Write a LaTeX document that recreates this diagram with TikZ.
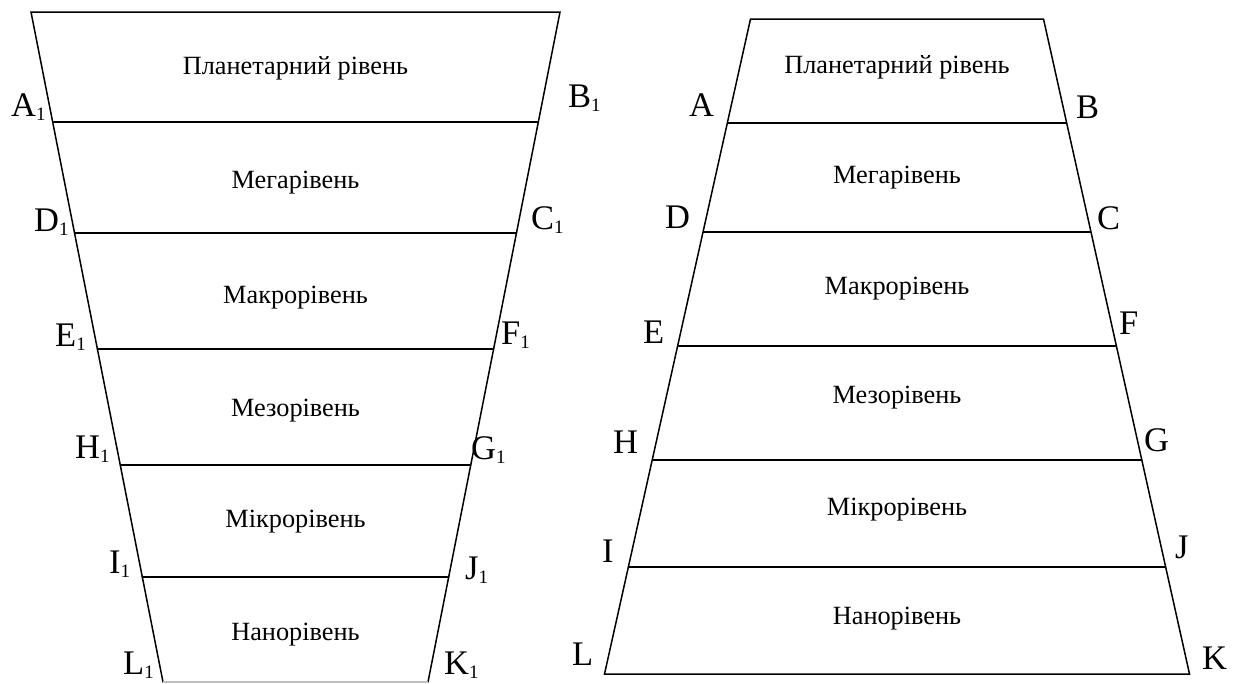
\documentclass[tikz,border=0pt]{standalone}
\usepackage{fontspec}
\setmainfont{Liberation Serif}
\newcommand\lsub[1]{\raisebox{-0.13em}{\fontsize{19}{19}\selectfont #1}}
\tikzset{
  edge/.style={line width=1.5pt, line cap=round},
  lvl/.style={font=\fontsize{26.3}{26.3}\selectfont, anchor=base, inner sep=0pt},
  lab/.style={font=\fontsize{34.5}{34.5}\selectfont, anchor=base west, inner sep=0pt},
}
\begin{document}
\begin{tikzpicture}[x=1pt,y=-1pt]
\useasboundingbox (0,0) rectangle (1233,683);
% ---- left (inverted) trapezoid corners
\coordinate (lt1) at (31,12);      \coordinate (rt1) at (560,12);
\coordinate (pA1) at (52.7,122);   \coordinate (pB1) at (538.3,122);
\coordinate (pD1) at (74.5,233);   \coordinate (pC1) at (516.5,233);
\coordinate (pE1) at (97.4,349);   \coordinate (pF1) at (493.6,349);
\coordinate (pH1) at (120.3,465);  \coordinate (pG1) at (470.8,465);
\coordinate (pI1) at (142.3,577);  \coordinate (pJ1) at (448.7,577);
\coordinate (pL1) at (163,682);    \coordinate (pK1) at (428,682);
\draw[edge] (pL1) -- (lt1) -- (rt1) -- (pK1);
\draw[line width=1.2pt, black!25] (pL1) -- (pK1);
\draw[edge] (pA1) -- (pB1);
\draw[edge] (pD1) -- (pC1);
\draw[edge] (pE1) -- (pF1);
\draw[edge] (pH1) -- (pG1);
\draw[edge] (pI1) -- (pJ1);
% ---- right trapezoid corners
\coordinate (lt2) at (750.5,19);   \coordinate (rt2) at (1043.5,19);
\coordinate (pA) at (727.7,123);   \coordinate (pB) at (1066.3,123);
\coordinate (pD) at (703.4,232);   \coordinate (pC) at (1090.6,232);
\coordinate (pE) at (677.9,346);   \coordinate (pF) at (1116.1,346);
\coordinate (pH) at (652.4,460);   \coordinate (pG) at (1141.6,460);
\coordinate (pI) at (628.4,567);   \coordinate (pJ) at (1165.6,567);
\coordinate (pL) at (604.5,674);   \coordinate (pK) at (1189.5,674);
\draw[edge] (lt2) -- (rt2) -- (pK) -- (pL) -- cycle;
\draw[edge] (pA) -- (pB);
\draw[edge] (pD) -- (pC);
\draw[edge] (pE) -- (pF);
\draw[edge] (pH) -- (pG);
\draw[edge] (pI) -- (pJ);
% ---- level texts, left
\node[lvl] (t1) at (295.5,74) {Планетарний рівень};
\node[lvl] (t2) at (295.5,188) {Мегарівень};
\node[lvl] (t3) at (295.5,303) {Макрорівень};
\node[lvl] (t4) at (295.5,416) {Мезорівень};
\node[lvl] (t5) at (295.5,527) {Мікрорівень};
\node[lvl] (t6) at (295.5,640) {Нанорівень};
% ---- level texts, right
\node[lvl] (u1) at (897,73) {Планетарний рівень};
\node[lvl] (u2) at (897,183) {Мегарівень};
\node[lvl] (u3) at (897,294) {Макрорівень};
\node[lvl] (u4) at (897,403) {Мезорівень};
\node[lvl] (u5) at (897,515) {Мікрорівень};
\node[lvl] (u6) at (897,624) {Нанорівень};
% ---- labels, left trapezoid
\node[lab] (lA1) at (11,116) {A\lsub{1}};
\node[lab] (lB1) at (568,107) {B\lsub{1}};
\node[lab] (lD1) at (34,231) {D\lsub{1}};
\node[lab] (lC1) at (531,229) {C\lsub{1}};
\node[lab] (lE1) at (55,346) {E\lsub{1}};
\node[lab] (lF1) at (501,344) {F\lsub{1}};
\node[lab] (lH1) at (75,458) {H\lsub{1}};
\node[lab] (lG1) at (471,459) {G\lsub{1}};
\node[lab] (lI1) at (109,573) {I\lsub{1}};
\node[lab] (lJ1) at (465,579) {J\lsub{1}};
\node[lab] (lL1) at (123,674) {L\lsub{1}};
\node[lab] (lK1) at (444,674) {K\lsub{1}};
% ---- labels, right trapezoid
\node[lab] (lA) at (689,116) {A};
\node[lab] (lB) at (1076,118) {B};
\node[lab] (lD) at (665,228) {D};
\node[lab] (lC) at (1097,229) {C};
\node[lab] (lE) at (643,343) {E};
\node[lab] (lF) at (1119,334) {F};
\node[lab] (lH) at (613,453) {H};
\node[lab] (lG) at (1144,451) {G};
\node[lab] (lI) at (602,562) {I};
\node[lab] (lJ) at (1175,558) {J};
\node[lab] (lL) at (572,665) {L};
\node[lab] (lK) at (1202,669) {K};
\end{tikzpicture}
\end{document}
